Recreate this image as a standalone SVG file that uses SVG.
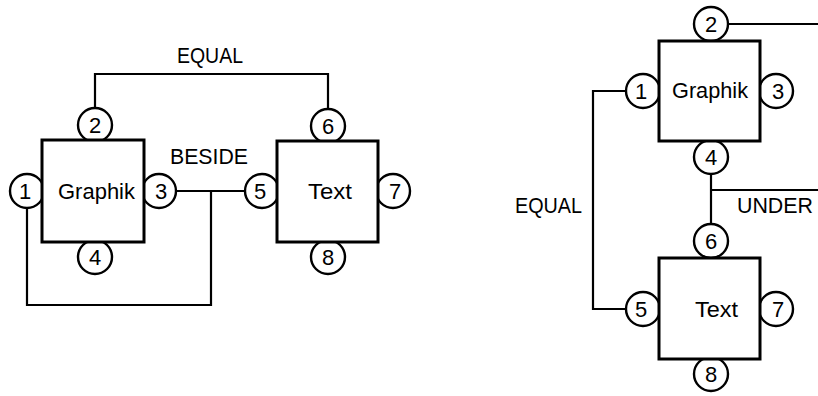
<svg xmlns="http://www.w3.org/2000/svg" width="818" height="396" viewBox="0 0 818 396">
<style>
.box{fill:#fff;stroke:#000;stroke-width:3}
.port{fill:#fff;stroke:#000;stroke-width:2.4}
.wire{fill:none;stroke:#000;stroke-width:2.2}
.lbl{font-family:"Liberation Sans",Arial,sans-serif;font-size:22px;fill:#000}
.num{font-family:"Liberation Sans",Arial,sans-serif;font-size:22px;fill:#000;text-anchor:middle}
</style>
<rect width="818" height="396" fill="#fff"/>
<g id="connectors">
<path class="wire" d="M95,108 V74 H328 V109"/>
<path class="wire" d="M176,191 H245"/>
<path class="wire" d="M211,191 V305 H27 V208"/>
<path class="wire" d="M728,24 H818"/>
<path class="wire" d="M711,174 V225"/>
<path class="wire" d="M711,190 H818"/>
<path class="wire" d="M626,91 H593 V309 H626"/>
</g>
<g id="labels">
<text class="lbl" x="177" y="63" textLength="66" lengthAdjust="spacingAndGlyphs">EQUAL</text>
<text class="lbl" x="170" y="164" textLength="78" lengthAdjust="spacingAndGlyphs">BESIDE</text>
<text class="lbl" x="515" y="213" textLength="67" lengthAdjust="spacingAndGlyphs">EQUAL</text>
<text class="lbl" x="737" y="213" textLength="76" lengthAdjust="spacingAndGlyphs">UNDER</text>
</g>
<g id="graphik-left">
<circle class="port" cx="27" cy="191" r="17"/>
<circle class="port" cx="95" cy="125" r="17"/>
<circle class="port" cx="159" cy="191" r="17"/>
<circle class="port" cx="95" cy="257" r="17"/>
<rect class="box" x="42" y="140" width="102" height="102"/>
<text class="lbl" x="58" y="199" textLength="77" lengthAdjust="spacingAndGlyphs">Graphik</text>
<text class="num" x="25" y="199">1</text>
<text class="num" x="95" y="133">2</text>
<text class="num" x="161" y="199">3</text>
<text class="num" x="95" y="265">4</text>
</g>
<g id="text-left">
<circle class="port" cx="262" cy="191" r="17"/>
<circle class="port" cx="328" cy="126" r="17"/>
<circle class="port" cx="393" cy="191" r="17"/>
<circle class="port" cx="328" cy="257" r="17"/>
<rect class="box" x="277" y="141" width="101" height="101"/>
<text class="lbl" x="308" y="199" textLength="44" lengthAdjust="spacingAndGlyphs">Text</text>
<text class="num" x="260" y="199">5</text>
<text class="num" x="328" y="134">6</text>
<text class="num" x="395" y="199">7</text>
<text class="num" x="328" y="265">8</text>
</g>
<g id="graphik-right">
<circle class="port" cx="643" cy="91" r="17"/>
<circle class="port" cx="711" cy="24" r="17"/>
<circle class="port" cx="776" cy="91" r="17"/>
<circle class="port" cx="711" cy="157" r="17"/>
<rect class="box" x="659" y="41" width="101" height="100"/>
<text class="lbl" x="672" y="98" textLength="76" lengthAdjust="spacingAndGlyphs">Graphik</text>
<text class="num" x="641" y="99">1</text>
<text class="num" x="711" y="32">2</text>
<text class="num" x="778" y="99">3</text>
<text class="num" x="711" y="165">4</text>
</g>
<g id="text-right">
<circle class="port" cx="643" cy="309" r="17"/>
<circle class="port" cx="711" cy="241" r="17"/>
<circle class="port" cx="776" cy="309" r="17"/>
<circle class="port" cx="711" cy="374" r="17"/>
<rect class="box" x="659" y="258" width="101" height="101"/>
<text class="lbl" x="695" y="317" textLength="43" lengthAdjust="spacingAndGlyphs">Text</text>
<text class="num" x="641" y="317">5</text>
<text class="num" x="711" y="249">6</text>
<text class="num" x="778" y="317">7</text>
<text class="num" x="711" y="382">8</text>
</g>
</svg>
